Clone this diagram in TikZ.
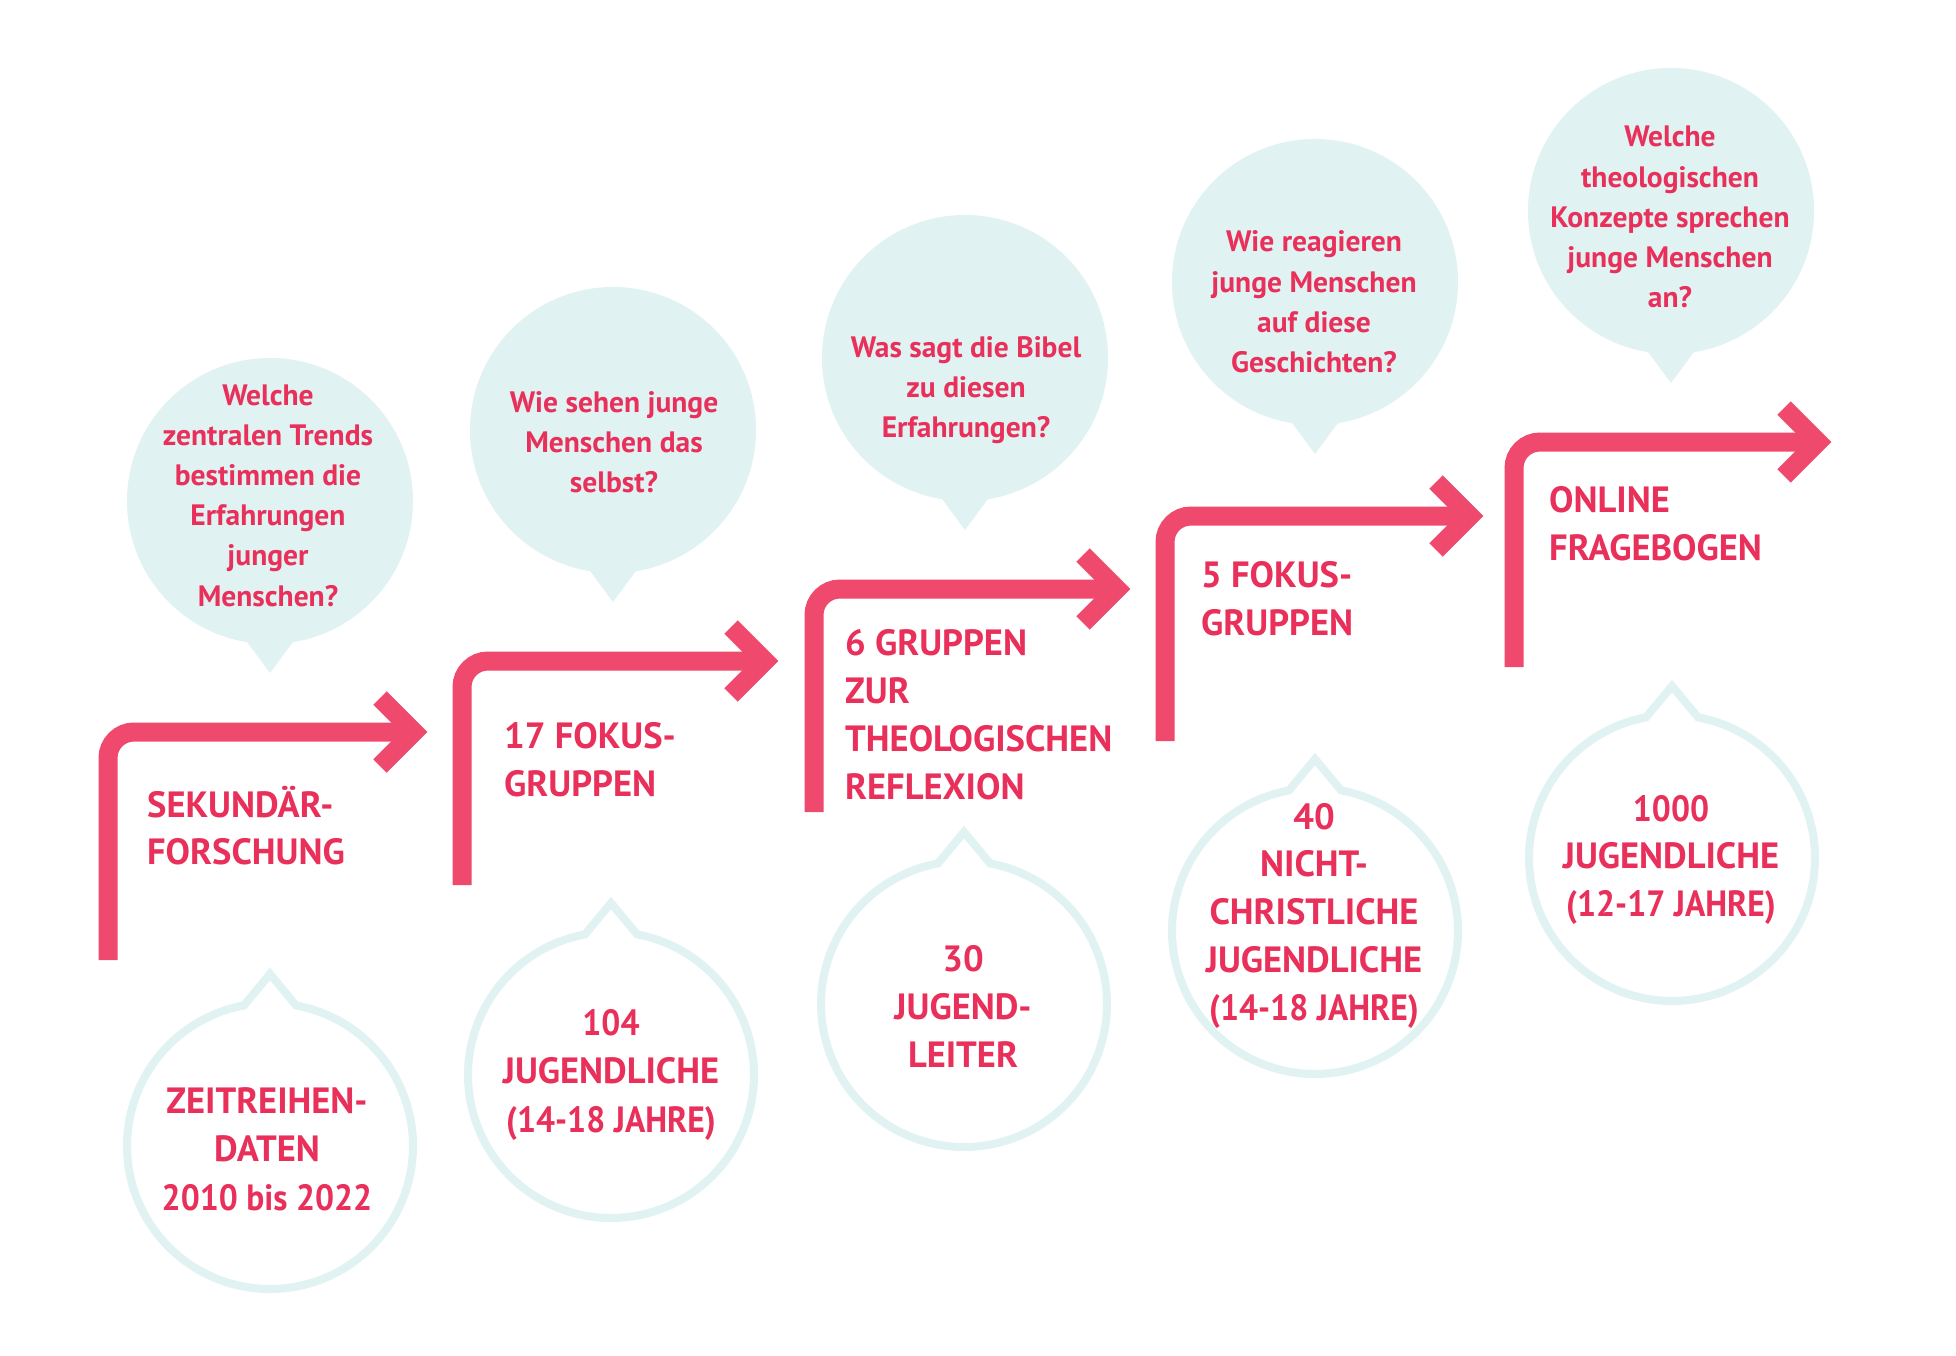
\documentclass[tikz,border=0pt]{standalone}
\usepackage{fontspec}
\setmainfont{PT Sans}
\definecolor{txt}{HTML}{E8305B}
\definecolor{arr}{HTML}{F0496E}
\definecolor{bub}{HTML}{E0F2F2}
\newcommand\narrowtxt[1]{\scalebox{0.92}[1]{#1}}
\tikzset{
  arrline/.style={draw=arr, line width=19pt, line cap=butt, rounded corners=26pt},
  arrhead/.style={draw=arr, line width=19pt, line cap=butt, line join=miter, miter limit=10},
  lbl/.style={text=txt, font=\bfseries\fontsize{36.5}{48}\selectfont, anchor=base west, inner sep=0pt},
  qst/.style={text=txt, font=\bfseries\fontsize{29.5}{40}\selectfont, anchor=base, inner sep=0pt},
  cnt/.style={text=txt, font=\bfseries\fontsize{36.5}{48}\selectfont, anchor=base, inner sep=0pt},
  bubline/.style={draw=bub, line width=8pt, line join=miter},
}
\newcommand\topbub[2]{%
  \fill[bub] (#1,#2) circle[radius=143];
  \fill[bub] ({#1-31},{#2+130}) -- ({#1},{#2+172}) -- ({#1+31},{#2+130}) -- cycle;
}
\newcommand\botbub[2]{%
  \draw[bubline] plot[domain=-79.5:259.5, samples=160] ({#1+143*cos(\x)},{#2+143*sin(\x)}) -- ({#1},{#2-172}) -- cycle;
}
\newcommand\steparrow[4]{%
  \draw[arrline] (#1,#3) -- (#1,#2) -- (#4,#2);
  \draw[arrhead] ({#4-34},{#2-34}) -- (#4,#2) -- ({#4-34},{#2+34});
}
\begin{document}
\begin{tikzpicture}[x=1pt,y=-1pt]
\useasboundingbox (0,0) rectangle (1956,1356);
\fill[white] (0,0) rectangle (1956,1356);

% top speech bubbles
\topbub{270}{501}
\topbub{613}{430}
\topbub{965}{358}
\topbub{1315}{282}
\topbub{1671}{211}

% bottom outlined bubbles
\botbub{270}{1146}
\botbub{611}{1075}
\botbub{964}{1004}
\botbub{1315}{931}
\botbub{1672}{858}

% step arrows
\steparrow{108}{732}{960}{414}
\steparrow{462}{661}{885}{765}
\steparrow{814}{589}{812}{1117}
\steparrow{1165}{516}{741}{1470}
\steparrow{1514}{442}{667}{1818}

% questions
\foreach \t [count=\i] in {Welche, zentralen Trends, bestimmen die, Erfahrungen, junger, Menschen?}
  \node[qst] (q1-\i) at (268,{405+40.2*(\i-1)}) {\t};
\foreach \t [count=\i] in {Wie sehen junge, Menschen das, selbst?}
  \node[qst] (q2-\i) at (614,{412+40.2*(\i-1)}) {\t};
\foreach \t [count=\i] in {Was sagt die Bibel, zu diesen, Erfahrungen?}
  \node[qst] (q3-\i) at (966,{357+40.2*(\i-1)}) {\t};
\foreach \t [count=\i] in {Wie reagieren, junge Menschen, auf diese, Geschichten?}
  \node[qst] (q4-\i) at (1314,{252+40.2*(\i-1)}) {\t};
\foreach \t [count=\i] in {Welche, theologischen, Konzepte sprechen, junge Menschen, an?}
  \node[qst] (q5-\i) at (1670,{147+40.2*(\i-1)}) {\t};

% step labels
\foreach \t [count=\i] in {SEKUNDÄR-, FORSCHUNG}
  \node[lbl] (l1-\i) at (147,{817+47.5*(\i-1)}) {\t};
\foreach \t [count=\i] in {17 FOKUS-, GRUPPEN}
  \node[lbl] (l2-\i) at (504,{748+48.5*(\i-1)}) {\t};
\foreach \t [count=\i] in {6 GRUPPEN, ZUR, THEOLOGISCHEN, REFLEXION}
  \node[lbl] (l3-\i) at (845,{655+48.3*(\i-1)}) {\t};
\foreach \t [count=\i] in {5 FOKUS-, GRUPPEN}
  \node[lbl] (l4-\i) at (1201,{587+48*(\i-1)}) {\t};
\foreach \t [count=\i] in {ONLINE, FRAGEBOGEN}
  \node[lbl] (l5-\i) at (1549,{512+48*(\i-1)}) {\t};

% counts
\foreach \t [count=\i] in {ZEITREIHEN-, DATEN, \narrowtxt{2010 bis 2022}}
  \node[cnt] (c1-\i) at (267,{1113+48.5*(\i-1)}) {\t};
\foreach \t [count=\i] in {\narrowtxt{104}, JUGENDLICHE, \narrowtxt{(14-18 JAHRE)}}
  \node[cnt] (c2-\i) at (611,{1035+48.5*(\i-1)}) {\t};
\foreach \t [count=\i] in {30, JUGEND-, LEITER}
  \node[cnt] (c3-\i) at (963,{971+48*(\i-1)}) {\t};
\foreach \t [count=\i] in {40, NICHT-, CHRISTLICHE, JUGENDLICHE, \narrowtxt{(14-18 JAHRE)}}
  \node[cnt] (c4-\i) at (1314,{829+47.8*(\i-1)}) {\t};
\foreach \t [count=\i] in {\narrowtxt{1000}, JUGENDLICHE, \narrowtxt{(12-17 JAHRE)}}
  \node[cnt] (c5-\i) at (1671,{821+47.5*(\i-1)}) {\t};
\end{tikzpicture}
\end{document}
